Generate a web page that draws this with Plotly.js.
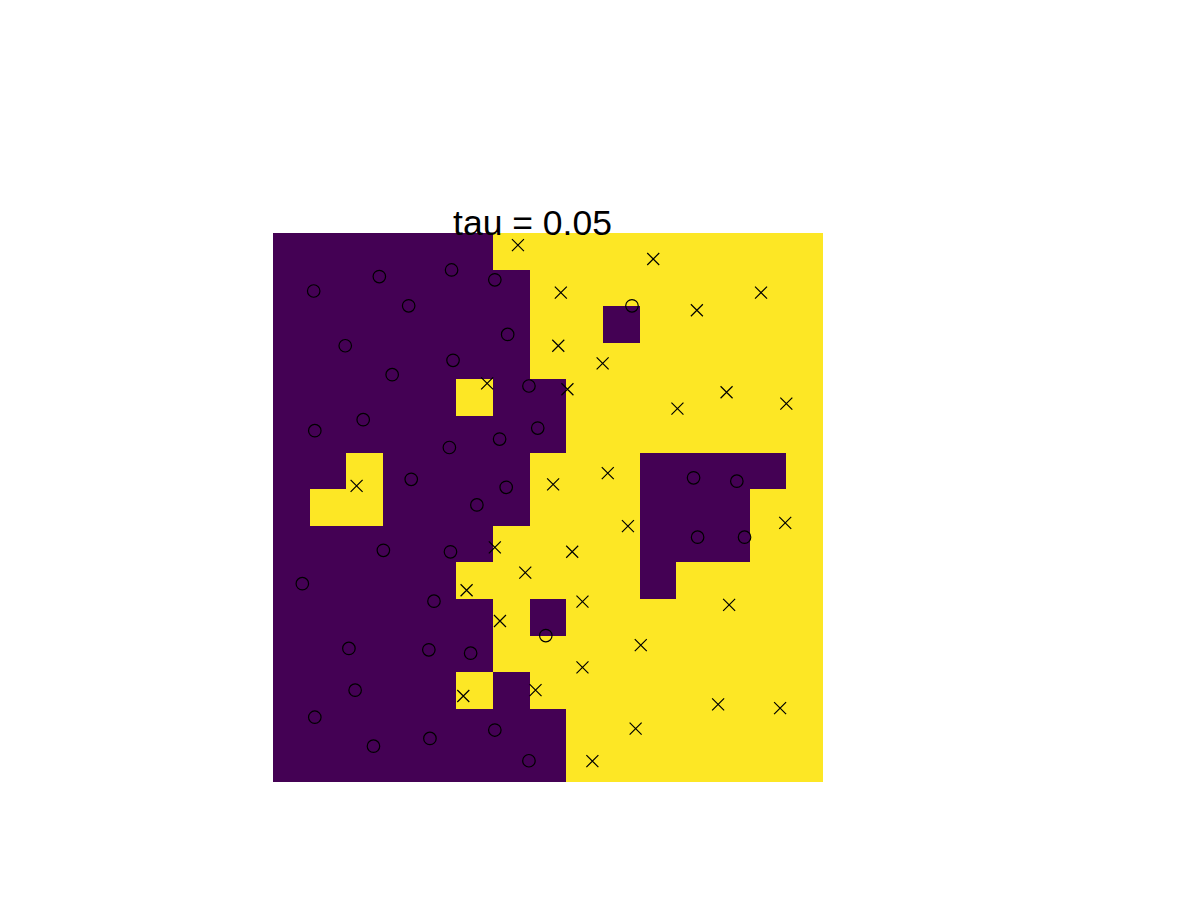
<!DOCTYPE html>
<html>
<head>
<meta charset="utf-8">
<script src="https://cdn.plot.ly/plotly-3.0.1.min.js"></script>
<style>html,body{margin:0;padding:0;background:#fff;}#chart{width:1200px;height:900px;}</style>
</head>
<body>
<div id="chart"></div>
<script>
// Grid cell centres (15 x 15), row 0 at the top
const colCentres = [0.5,1.5,2.5,3.5,4.5,5.5,6.5,7.5,8.5,9.5,10.5,11.5,12.5,13.5,14.5];
const rowCentres = [0.5,1.5,2.5,3.5,4.5,5.5,6.5,7.5,8.5,9.5,10.5,11.5,12.5,13.5,14.5];

// Predicted class per cell (0 = class "o", 1 = class "x")
const gridClass = [
  [0,0,0,0,0,0,1,1,1,1,1,1,1,1,1],
  [0,0,0,0,0,0,0,1,1,1,1,1,1,1,1],
  [0,0,0,0,0,0,0,1,1,0,1,1,1,1,1],
  [0,0,0,0,0,0,0,1,1,1,1,1,1,1,1],
  [0,0,0,0,0,1,0,0,1,1,1,1,1,1,1],
  [0,0,0,0,0,0,0,0,1,1,1,1,1,1,1],
  [0,0,1,0,0,0,0,1,1,1,0,0,0,0,1],
  [0,1,1,0,0,0,0,1,1,1,0,0,0,1,1],
  [0,0,0,0,0,0,1,1,1,1,0,0,0,1,1],
  [0,0,0,0,0,1,1,1,1,1,0,1,1,1,1],
  [0,0,0,0,0,0,1,0,1,1,1,1,1,1,1],
  [0,0,0,0,0,0,1,1,1,1,1,1,1,1,1],
  [0,0,0,0,0,1,0,1,1,1,1,1,1,1,1],
  [0,0,0,0,0,0,0,0,1,1,1,1,1,1,1],
  [0,0,0,0,0,0,0,0,1,1,1,1,1,1,1]
];

// Training points, class "o"
const circleX = [1.11,2.90,4.87,6.05,3.70,6.40,1.97,4.91,3.25,6.98,2.46,1.14,7.22,6.18,4.81,3.77,6.36,5.56,9.79,11.47,12.65,3.01,4.84,0.80,4.39,7.44,2.07,4.25,5.39,2.24,1.14,6.05,4.28,2.74,6.98,11.58,12.86];
const circleY = [1.585,1.19,1.01,1.28,1.99,2.77,3.08,3.48,3.87,4.18,5.10,5.40,5.33,5.63,5.86,6.73,6.95,7.43,1.99,6.69,6.78,8.67,8.71,9.58,10.06,11.00,11.35,11.39,11.48,12.49,13.23,13.58,13.81,14.02,14.42,8.31,8.31];

// Training points, class "x"
const crossX = [6.68,5.84,2.28,10.37,7.85,13.31,11.56,7.78,8.99,8.03,12.37,14.00,11.03,9.13,7.64,9.68,13.97,8.16,6.05,6.88,5.28,6.19,8.44,12.44,10.03,8.44,7.16,5.19,12.14,13.83,9.89,8.71];
const crossY = [0.33,4.11,6.91,0.71,1.63,1.63,2.11,3.08,3.56,4.27,4.35,4.66,4.80,6.56,6.87,8.01,7.92,8.71,8.59,9.28,9.76,10.60,10.07,10.16,11.26,11.87,12.49,12.65,12.88,12.98,13.54,14.43];

const titleText = 'tau = 0.05';

const traces = [
  {
    type: 'heatmap',
    x: colCentres,
    y: rowCentres,
    z: gridClass,
    zmin: 0, zmax: 1,
    colorscale: [[0,'#440154'],[1,'#fde725']],
    showscale: false,
    hoverinfo: 'skip'
  },
  {
    type: 'scatter', mode: 'markers',
    x: circleX, y: circleY,
    marker: {symbol: 'circle-open', size: 12.5, color: '#000000', line: {width: 1.2, color: '#000000'}},
    hoverinfo: 'skip', showlegend: false
  },
  {
    type: 'scatter', mode: 'markers',
    x: crossX, y: crossY,
    marker: {symbol: 'x-thin-open', size: 12, color: '#000000', line: {width: 1.2, color: '#000000'}},
    hoverinfo: 'skip', showlegend: false
  }
];

const layout = {
  width: 1200, height: 900,
  margin: {l: 273, r: 377, t: 233, b: 118, pad: 0},
  paper_bgcolor: '#ffffff',
  plot_bgcolor: '#ffffff',
  showlegend: false,
  title: {
    text: titleText,
    font: {family: 'Liberation Sans, Arial, sans-serif', size: 35.5, color: '#000000'},
    x: 532.5/1200, xref: 'container', xanchor: 'center',
    yref: 'container', y: 1 - 223/900, yanchor: 'middle'
  },
  xaxis: {range: [0, 15], visible: false, fixedrange: true},
  yaxis: {range: [15, 0], visible: false, fixedrange: true}
};

Plotly.newPlot('chart', traces, layout, {displayModeBar: false, staticPlot: true});
</script>
</body>
</html>
